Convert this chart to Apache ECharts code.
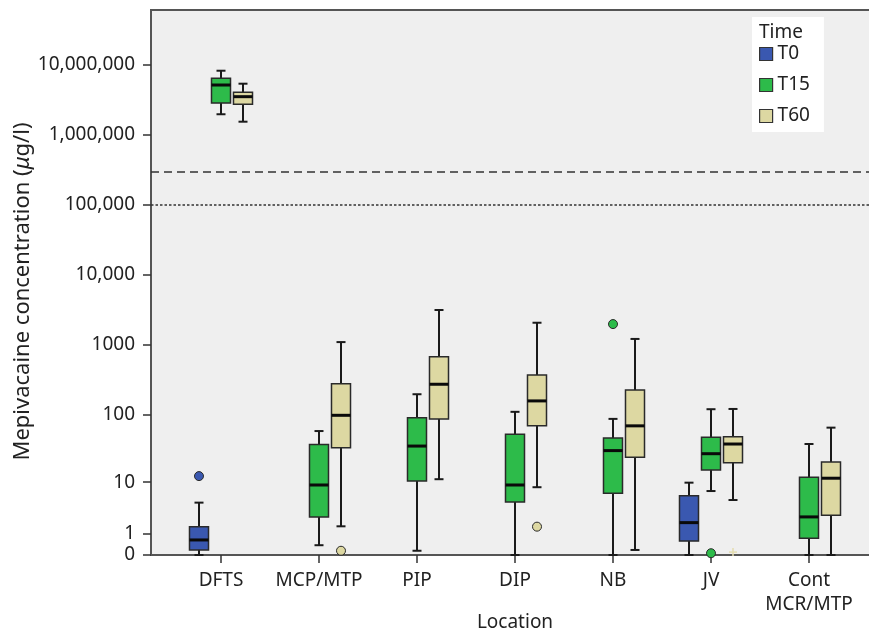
<!DOCTYPE html>
<html><head><meta charset="utf-8">
<script src="https://cdn.jsdelivr.net/npm/echarts@6/dist/echarts.min.js"></script>
<style>html,body{margin:0;padding:0;background:#fff}#c{width:869px;height:631px}</style>
</head><body><div id="c"></div>
<script>
const categories = ['DFTS', 'MCP/MTP', 'PIP', 'DIP', 'NB', 'JV', 'Cont\nMCR/MTP'];
const yTickValues = [0, 1, 10, 100, 1000, 10000, 100000, 1000000, 10000000];
const yTickLabels = ['0', '1', '10', '100', '1000', '10,000', '100,000', '1,000,000', '10,000,000'];
const seriesNames = ['T0', 'T15', 'T60'];
// [min, q1, median, q3, max] per category (µg/l), null = no box
const t0Stats = [
  [0, 0.18, 0.64, 1.54, 4.6], null, null, null, null,
  [0, 0.58, 1.9, 6.0, 9.8], null
];
const t15Stats = [
  [1980000, 2860000, 5180000, 6460000, 8290000],
  [0.38, 2.5, 9.0, 37, 58],
  [0.15, 10.4, 35, 90, 197],
  [0, 4.7, 9.0, 52, 110],
  [0, 6.6, 30, 46, 87],
  [7.2, 15.4, 27, 47, 120],
  [0, 0.73, 2.5, 11.9, 37.5]
];
const t60Stats = [
  [1550000, 2750000, 3530000, 4070000, 5410000],
  [1.57, 33, 98, 279, 1100],
  [11.1, 87, 274, 679, 3160],
  [8.3, 69, 158, 372, 2080],
  [0.18, 24, 69, 227, 1220],
  [5.1, 19.8, 37.5, 48, 121],
  [0, 2.7, 11.5, 20.3, 65]
];
const t0Outliers = [['DFTS', 12.4]];
const t15Outliers = [['NB', 1990], ['JV', 0.06]];
const t60Outliers = [['MCP/MTP', 0.15], ['DIP', 1.54]];
const t60Extremes = [['JV', 0.1]];
const refLines = [300000, 100000];

const colors = ['#3a58b0', '#2dbb4a', '#ddd8a2'];
const ty = v => Math.log10(v + 1);
const yMax = 7.786;
const FONT = 'Noto Sans';

function boxData(stats) {
  const out = [];
  stats.forEach((s, i) => { if (s) out.push([i, ...s.map(ty)]); });
  return out;
}
function ptData(list) {
  return list.map(([c, v]) => [categories.indexOf(c), ty(v)]);
}
const OFF = [-1, 0, 1];
function makeBox(k) {
  return function (params, api) {
    const band = api.size([1, 0])[0];
    const cx = api.coord([api.value(0), 0])[0] + OFF[k] * band * 0.2245;
    const Y = i => api.coord([api.value(0), api.value(i)])[1];
    const yMin = Y(1), yQ1 = Y(2), yMed = Y(3), yQ3 = Y(4), yMx = Y(5);
    const hw = band * 0.097, cw = 4.5, st = '#1a1a1a';
    return {
      type: 'group', children: [
        { type: 'line', shape: { x1: cx, y1: yMin, x2: cx, y2: yMx }, style: { stroke: st, lineWidth: 2 } },
        { type: 'line', shape: { x1: cx - cw, y1: yMin, x2: cx + cw, y2: yMin }, style: { stroke: st, lineWidth: 2 } },
        { type: 'line', shape: { x1: cx - cw, y1: yMx, x2: cx + cw, y2: yMx }, style: { stroke: st, lineWidth: 2 } },
        { type: 'rect', shape: { x: cx - hw, y: yQ3, width: 2 * hw, height: yQ1 - yQ3 }, style: { fill: colors[k], stroke: '#2a2a2a', lineWidth: 1.5 } },
        { type: 'line', shape: { x1: cx - hw, y1: yMed, x2: cx + hw, y2: yMed }, style: { stroke: '#0a0a0a', lineWidth: 3 } }
      ]
    };
  };
}
function makePts(k, star) {
  return function (params, api) {
    const band = api.size([1, 0])[0];
    const cx = api.coord([api.value(0), 0])[0] + OFF[k] * band * 0.2245;
    const cy = api.coord([api.value(0), api.value(1)])[1];
    if (star) {
      return { type: 'group', children: [
        { type: 'line', shape: { x1: cx - 4, y1: cy, x2: cx + 4, y2: cy }, style: { stroke: '#e4ddb0', lineWidth: 1.5 } },
        { type: 'line', shape: { x1: cx, y1: cy - 4, x2: cx, y2: cy + 4 }, style: { stroke: '#e4ddb0', lineWidth: 1.5 } }
      ] };
    }
    return { type: 'circle', shape: { cx: cx, cy: cy, r: 4.5 }, style: { fill: colors[k], stroke: '#2a2a2a', lineWidth: 1 } };
  };
}

const statsAll = [t0Stats, t15Stats, t60Stats];
const outAll = [t0Outliers, t15Outliers, t60Outliers];
const series = [];
seriesNames.forEach((n, k) => {
  series.push({
    name: n, type: 'custom', xAxisIndex: 1, yAxisIndex: 1, clip: false,
    itemStyle: { color: colors[k], borderColor: '#2a2a2a', borderWidth: 1 },
    renderItem: makeBox(k), data: boxData(statsAll[k]), encode: { x: 0, y: [1, 2, 3, 4, 5] }, z: 3
  });
});
seriesNames.forEach((n, k) => {
  series.push({
    name: n, type: 'custom', xAxisIndex: 1, yAxisIndex: 1, clip: false,
    itemStyle: { color: colors[k] },
    renderItem: makePts(k, false), data: ptData(outAll[k]), encode: { x: 0, y: 1 }, z: 4
  });
});
series.push({
  name: 'T60', type: 'custom', xAxisIndex: 1, yAxisIndex: 1, clip: false,
  renderItem: makePts(2, true), data: ptData(t60Extremes), encode: { x: 0, y: 1 }, z: 4
});
series.push({
  name: 'ref', type: 'line', xAxisIndex: 0, yAxisIndex: 0, data: [], silent: true,
  markLine: {
    silent: true, symbol: 'none', label: { show: false },
    data: refLines.map((v, i) => ({
      yAxis: ty(v),
      lineStyle: { color: '#333', width: 1.5, type: i === 0 ? [8, 5] : [2.5, 2] }
    }))
  }
});

const chart = echarts.init(document.getElementById('c'), null, { renderer: 'canvas' });
chart.setOption({
  animation: false,
  textStyle: { fontFamily: FONT },
  grid: [
    { left: 151, top: 10, width: 740, height: 545, show: true, backgroundColor: '#efefef', borderColor: '#555', borderWidth: 2, outerBoundsMode: 'none', containLabel: false },
    { left: 172, top: 10, width: 686, height: 545, outerBoundsMode: 'none', containLabel: false }
  ],
  title: { text: 'Time', left: 759, top: 23, padding: 0, z: 10, textStyle: { fontFamily: FONT, fontSize: 19, fontWeight: 'normal', color: '#222' } },
  legend: {
    orient: 'vertical', left: 752, top: 17, padding: [27, 14, 6, 7], backgroundColor: '#fff',
    itemWidth: 13, itemHeight: 13, itemGap: 11, selectedMode: false, icon: 'rect',
    textStyle: { fontFamily: FONT, fontSize: 19, lineHeight: 20, color: '#222' },
    data: seriesNames.map((n, k) => ({ name: n, itemStyle: { color: colors[k], borderColor: '#333', borderWidth: 1.2 } }))
  },
  xAxis: [
    { gridIndex: 0, type: 'value', min: 0, max: 1, show: false },
    {
      gridIndex: 1, type: 'category', data: categories, boundaryGap: true,
      axisLine: { show: false },
      axisTick: { show: true, alignWithLabel: true, length: 8, lineStyle: { color: '#333', width: 1.5 } },
      axisLabel: { margin: 14, fontFamily: FONT, fontSize: 19, lineHeight: 24, color: '#222', interval: 0 },
      name: 'Location', nameLocation: 'middle', nameGap: 58, nameMoveOverlap: false,
      nameTextStyle: { fontFamily: FONT, fontSize: 19, color: '#222' },
      splitLine: { show: false }
    }
  ],
  yAxis: [
    {
      gridIndex: 0, type: 'value', min: 0, max: yMax,
      axisLine: { show: true, lineStyle: { color: '#555', width: 2 } },
      axisTick: { show: true, customValues: yTickValues.map(ty), length: 8, lineStyle: { color: '#333', width: 1.5 } },
      axisLabel: {
        customValues: yTickValues.map(ty), margin: 16, fontFamily: FONT, fontSize: 19, color: '#222',
        formatter: function (val) {
          let best = 0, d = Infinity;
          yTickValues.forEach((t, i) => { const dd = Math.abs(ty(t) - val); if (dd < d) { d = dd; best = i; } });
          return yTickLabels[best];
        }
      },
      splitLine: { show: false },
      name: 'Mepivacaine concentration ({i|μ}g/l)', nameLocation: 'middle', nameGap: 117, nameMoveOverlap: false,
      nameTextStyle: { fontFamily: FONT, fontSize: 22, color: '#222', padding: [0, 18, 0, 0], rich: { i: { fontStyle: 'italic', fontFamily: FONT, fontSize: 22, color: '#222' } } }
    },
    { gridIndex: 1, type: 'value', min: 0, max: yMax, show: false, splitLine: { show: false } }
  ],
  series: series
});
</script></body></html>
